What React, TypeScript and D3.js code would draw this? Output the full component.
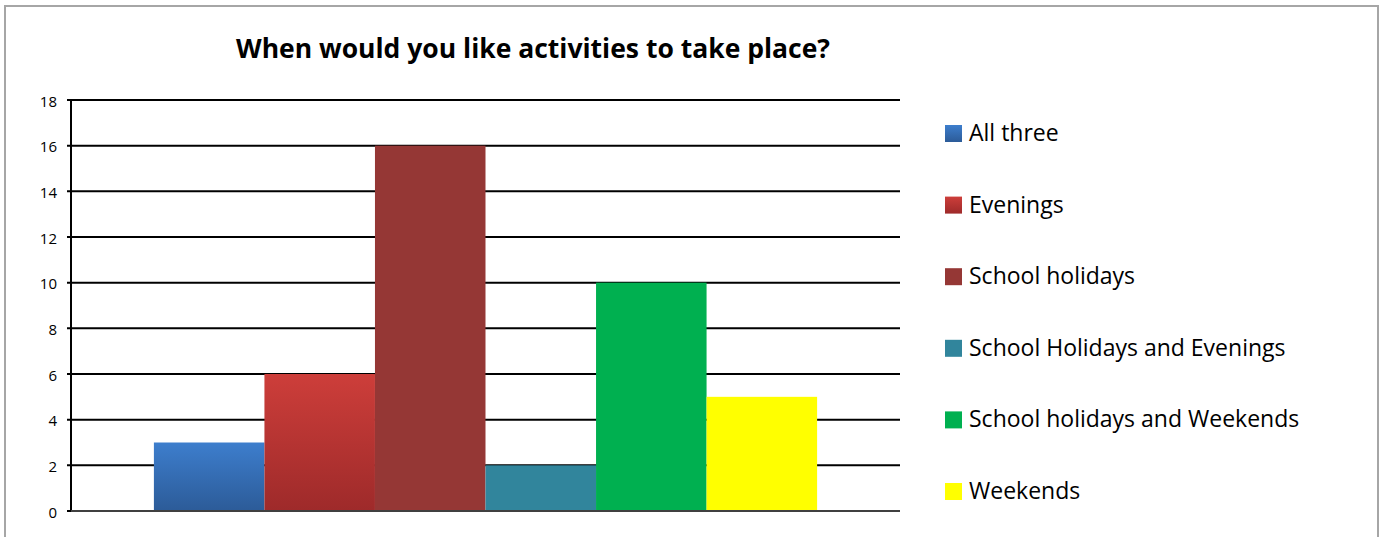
import React from "react";
import * as d3 from "d3";

const categories = [
  "All three",
  "Evenings",
  "School holidays",
  "School Holidays and Evenings",
  "School holidays and Weekends",
  "Weekends",
];
const values = [3, 6, 16, 2, 10, 5];
const colorsTop = ["#3d7ecd", "#cd3e3a", "#953735", "#31859c", "#00b050", "#ffff00"];
const colorsBottom = ["#2c5b98", "#9e2a2a", "#953735", "#31859c", "#00b050", "#ffff00"];
const yTicks = [0, 2, 4, 6, 8, 10, 12, 14, 16, 18];
const title = "When would you like activities to take place?";

const W = 1386;
const H = 537;
const plotLeft = 71;
const plotRight = 900;
const plotTop = 100;
const plotBottom = 511;

export default function App() {
  const y = d3.scaleLinear().domain([0, 18]).range([plotBottom, plotTop]);
  const gap = (plotRight - plotLeft) * 0.1;
  const x = d3
    .scaleBand<string>()
    .domain(categories)
    .range([plotLeft + gap, plotRight - gap])
    .padding(0);
  const font = "Open Sans, 'Liberation Sans', sans-serif";
  const legendY = d3
    .scalePoint<string>()
    .domain(categories)
    .range([133, 491]);

  return (
    <svg
      width={W}
      height={H}
      style={{ position: "absolute", left: 0, top: 0, display: "block" }}
    >
      <defs>
        {categories.map((c, i) => (
          <linearGradient key={c} id={`g${i}`} x1="0" y1="0" x2="0" y2="1">
            <stop offset="0" stopColor={colorsTop[i]} />
            <stop offset="1" stopColor={colorsBottom[i]} />
          </linearGradient>
        ))}
      </defs>
      <rect x={0} y={0} width={W} height={H} fill="#fff" />
      <rect
        x={5}
        y={6}
        width={1373}
        height={H + 20}
        fill="#fff"
        stroke="#a6a6a6"
        strokeWidth={2}
      />
      <text
        x={533}
        y={58}
        textAnchor="middle"
        fontFamily={font}
        fontWeight="bold"
        fontSize={26.5}
        fill="#000"
      >
        {title}
      </text>
      {yTicks.map((t) => (
        <g key={t}>
          <line
            x1={plotLeft - 4}
            x2={plotRight}
            y1={y(t)}
            y2={y(t)}
            stroke="#000"
            strokeWidth={2}
          />
          <text
            x={57}
            y={y(t)}
            dy="0.45em"
            textAnchor="end"
            fontFamily={font}
            fontSize={15}
            fill="#000"
          >
            {t}
          </text>
        </g>
      ))}
      <line
        x1={plotLeft}
        x2={plotLeft}
        y1={plotTop - 1}
        y2={plotBottom + 1}
        stroke="#000"
        strokeWidth={2}
      />
      {categories.map((c, i) => (
        <rect
          key={c}
          x={x(c)!}
          y={y(values[i])}
          width={x.bandwidth()}
          height={y(0) - y(values[i])}
          fill={`url(#g${i})`}
        />
      ))}
      <line
        x1={plotLeft}
        x2={plotRight}
        y1={y(0)}
        y2={y(0)}
        stroke="#404040"
        strokeWidth={2}
      />
      {categories.map((c, i) => (
        <g key={c} transform={`translate(945, ${legendY(c)})`}>
          <rect x={0} y={-8} width={17} height={17} fill={`url(#g${i})`} />
          <text
            x={24}
            y={0}
            dy="0.35em"
            fontFamily={font}
            fontSize={23}
            fill="#000"
          >
            {c}
          </text>
        </g>
      ))}
    </svg>
  );
}
